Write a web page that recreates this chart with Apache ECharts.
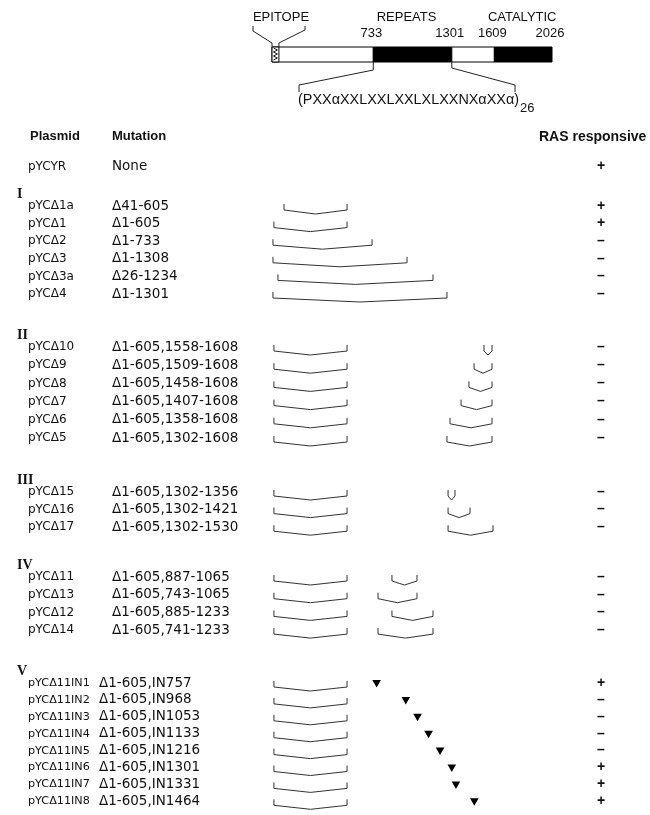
<!DOCTYPE html>
<html><head><meta charset="utf-8">
<script src="https://cdn.jsdelivr.net/npm/echarts@6/dist/echarts.min.js"></script>
<style>html,body{margin:0;padding:0;background:#fff}#c{width:650px;height:815px}</style>
</head><body><div id="c"></div>
<script>
// ---------------- data ----------------
const geneLength = 2026;
const segStart = [0, 733, 1301, 1609];
const segEnd = [733, 1301, 1609, 2026];
const segFilled = [false, true, false, true];
const boundaryLabels = [733, 1301, 1609, 2026];
const epitopeEnd = 50;
const domainNames = ['EPITOPE', 'REPEATS', 'CATALYTIC'];
const repeatMotif = '(PXX\u03b1XXLXXLXXLXLXXNX\u03b1XX\u03b1)';
const repeatCount = '26';

const headers = ['Plasmid', 'Mutation', 'RAS responsive'];
const groupNames = ['', 'I', 'II', 'III', 'IV', 'V'];

const g0Plasmids = ['pYCYR'];
const g0Mutations = ['None'];
const g0Spans = [[]];
const g0Responses = ['+'];

const g1Plasmids = ['pYC\u03941a', 'pYC\u03941', 'pYC\u03942', 'pYC\u03943', 'pYC\u03943a', 'pYC\u03944'];
const g1Mutations = ['\u039441-605', '\u03941-605', '\u03941-733', '\u03941-1308', '\u039426-1234', '\u03941-1301'];
const g1Spans = [[[87, 543]], [[14, 543]], [[7, 724]], [[7, 977]], [[43, 1165]], [[7, 1266]]];
const g1Responses = ['+', '+', '\u2013', '\u2013', '\u2013', '\u2013'];

const g2Plasmids = ['pYC\u039410', 'pYC\u03949', 'pYC\u03948', 'pYC\u03947', 'pYC\u03946', 'pYC\u03945'];
const g2Mutations = ['\u03941-605,1558-1608', '\u03941-605,1509-1608', '\u03941-605,1458-1608', '\u03941-605,1407-1608', '\u03941-605,1358-1608', '\u03941-605,1302-1608'];
const g2Spans = [[[14, 543], [1534, 1592]], [[14, 543], [1462, 1592]], [[14, 543], [1425, 1592]], [[14, 543], [1368, 1592]], [[14, 543], [1288, 1592]], [[14, 543], [1266, 1592]]];
const g2Responses = ['\u2013', '\u2013', '\u2013', '\u2013', '\u2013', '\u2013'];

const g3Plasmids = ['pYC\u039415', 'pYC\u039416', 'pYC\u039417'];
const g3Mutations = ['\u03941-605,1302-1356', '\u03941-605,1302-1421', '\u03941-605,1302-1530'];
const g3Spans = [[[14, 543], [1274, 1324]], [[14, 543], [1274, 1433]], [[14, 543], [1274, 1599]]];
const g3Responses = ['\u2013', '\u2013', '\u2013'];

const g4Plasmids = ['pYC\u039411', 'pYC\u039413', 'pYC\u039412', 'pYC\u039414'];
const g4Mutations = ['\u03941-605,887-1065', '\u03941-605,743-1065', '\u03941-605,885-1233', '\u03941-605,741-1233'];
const g4Spans = [[[14, 543], [868, 1049]], [[14, 543], [767, 1049]], [[14, 543], [868, 1165]], [[14, 543], [767, 1165]]];
const g4Responses = ['\u2013', '\u2013', '\u2013', '\u2013'];

const g5Plasmids = ['pYC\u039411IN1', 'pYC\u039411IN2', 'pYC\u039411IN3', 'pYC\u039411IN4', 'pYC\u039411IN5', 'pYC\u039411IN6', 'pYC\u039411IN7', 'pYC\u039411IN8'];
const g5Mutations = ['\u03941-605,IN757', '\u03941-605,IN968', '\u03941-605,IN1053', '\u03941-605,IN1133', '\u03941-605,IN1216', '\u03941-605,IN1301', '\u03941-605,IN1331', '\u03941-605,IN1464'];
const g5Spans = [[[14, 543]], [[14, 543]], [[14, 543]], [[14, 543]], [[14, 543]], [[14, 543]], [[14, 543]], [[14, 543]]];
const g5Inserts = [757, 968, 1053, 1133, 1216, 1301, 1331, 1464];
const g5Responses = ['+', '\u2013', '\u2013', '\u2013', '\u2013', '+', '+', '+'];

// ---------------- layout / style ----------------
const FONT = 'DejaVu Sans';
const INK = '#111';
const X_LEFT = 272, X_WIDTH = 280;
const PLASMID_X = 28, RESP_X = 601, NUMERAL_X = 17;

const groups = [
  {name: groupNames[0], plasmids: g0Plasmids, mutations: g0Mutations, spans: g0Spans, inserts: null, responses: g0Responses, c0: 166.5, sp: 17.8, mutX: 112, pFont: 12},
  {name: groupNames[1], plasmids: g1Plasmids, mutations: g1Mutations, spans: g1Spans, inserts: null, responses: g1Responses, c0: 206, sp: 17.6, mutX: 112, pFont: 12},
  {name: groupNames[2], plasmids: g2Plasmids, mutations: g2Mutations, spans: g2Spans, inserts: null, responses: g2Responses, c0: 347, sp: 18.2, mutX: 112, pFont: 12},
  {name: groupNames[3], plasmids: g3Plasmids, mutations: g3Mutations, spans: g3Spans, inserts: null, responses: g3Responses, c0: 492, sp: 17.6, mutX: 112, pFont: 12},
  {name: groupNames[4], plasmids: g4Plasmids, mutations: g4Mutations, spans: g4Spans, inserts: null, responses: g4Responses, c0: 577, sp: 17.7, mutX: 112, pFont: 12},
  {name: groupNames[5], plasmids: g5Plasmids, mutations: g5Mutations, spans: g5Spans, inserts: g5Inserts, responses: g5Responses, c0: 683, sp: 16.9, mutX: 99, pFont: 11.2}
];

function txt(text, x, y, font, align) {
  return {type: 'text', style: {text: text, x: x, y: y, font: font, fill: INK, align: align || 'left', verticalAlign: 'middle'}};
}

function makeRowRenderer(g) {
  return function (params, api) {
    const k = api.value(1);
    const y = api.coord([0, k])[1];
    const ch = [];
    if (k === 0 && g.name) ch.push(txt(g.name, NUMERAL_X, y - 12, 'bold 14px "Liberation Serif"', 'left'));
    ch.push(txt(g.plasmids[k], PLASMID_X, y, g.pFont + 'px "' + FONT + '"'));
    ch.push(txt(g.mutations[k], g.mutX, y, '13.5px "' + FONT + '"'));
    ch.push(txt(g.responses[k], RESP_X, y, 'bold 14px "Liberation Sans"', 'center'));
    g.spans[k].forEach(function (s) {
      const x1 = api.coord([s[0], k])[0], x2 = api.coord([s[1], k])[0];
      const xm = (x1 + x2) / 2;
      ch.push({type: 'polyline', shape: {points: [[x1, y - 2], [x1, y + 4], [xm, y + 8], [x2, y + 4], [x2, y - 2]]},
        style: {stroke: '#333', lineWidth: 1, fill: null}});
    });
    if (g.inserts) {
      const xi = api.coord([g.inserts[k], k])[0];
      ch.push({type: 'polygon', shape: {points: [[xi - 4.3, y - 3], [xi + 4.3, y - 3], [xi, y + 4.5]]}, style: {fill: '#000'}});
    }
    return {type: 'group', children: ch};
  };
}

function renderGene(params, api) {
  const c = api.coord([0, 0]);
  const h = api.size([0, 1])[1];
  const top = c[1] - h / 2, bot = c[1] + h / 2;
  const ch = [];
  for (let i = 0; i < segStart.length; i++) {
    const x1 = api.coord([segStart[i], 0])[0], x2 = api.coord([segEnd[i], 0])[0];
    ch.push({type: 'rect', shape: {x: x1, y: top, width: x2 - x1, height: h},
      style: {fill: segFilled[i] ? '#000' : '#fff', stroke: '#000', lineWidth: 1}});
  }
  // epitope hatch
  const xs = api.coord([0, 0])[0], xe = api.coord([epitopeEnd, 0])[0];
  ch.push({type: 'rect', shape: {x: xs, y: top, width: xe - xs, height: h}, style: {fill: '#fff', stroke: '#000', lineWidth: 1}});
  const zz = [];
  for (let yy = top + 1, t = 0; yy <= bot - 1; yy += 2, t++) zz.push([t % 2 ? xe - 1.5 : xs + 1.5, yy]);
  ch.push({type: 'polyline', shape: {points: zz}, style: {stroke: '#000', lineWidth: 0.9, fill: null}});
  // epitope callout
  ch.push({type: 'polyline', shape: {points: [[xs - 19, top - 21], [xs - 19, top - 16], [xs, top - 4], [xs, top]]}, style: {stroke: '#222', lineWidth: 1, fill: null}});
  ch.push({type: 'polyline', shape: {points: [[xe, top], [xe, top - 4], [xs + 33, top - 17], [xs + 33, top - 21]]}, style: {stroke: '#222', lineWidth: 1, fill: null}});
  // domain names
  const xRepMid = api.coord([(segStart[1] + segEnd[1]) / 2, 0])[0];
  const xCatMid = api.coord([(segStart[3] + segEnd[3]) / 2, 0])[0];
  const F = '13px "Liberation Sans"';
  ch.push(txt(domainNames[0], xs + 9, top - 30, F, 'center'));
  ch.push(txt(domainNames[1], xRepMid - 6, top - 30, F, 'center'));
  ch.push(txt(domainNames[2], xCatMid - 1, top - 30, F, 'center'));
  // boundary numbers
  boundaryLabels.forEach(function (b) {
    const xb = api.coord([b, 0])[0];
    ch.push(txt(String(b), xb - 2, top - 14, F, 'center'));
  });
  // repeats callout
  const xa = api.coord([segStart[1], 0])[0], xb2 = api.coord([segEnd[1], 0])[0];
  ch.push({type: 'polyline', shape: {points: [[xa, bot], [xa, bot + 8], [299, bot + 23], [299, bot + 30]]}, style: {stroke: '#222', lineWidth: 1, fill: null}});
  ch.push({type: 'polyline', shape: {points: [[xb2, bot], [xb2, bot + 6], [515, bot + 23], [515, bot + 30]]}, style: {stroke: '#222', lineWidth: 1, fill: null}});
  ch.push(txt(repeatMotif, 519, bot + 38, '14.4px "Liberation Sans"', 'right'));
  ch.push(txt(repeatCount, 520, bot + 46, '13px "Liberation Sans"', 'left'));
  return {type: 'group', children: ch};
}

const grids = [], xAxes = [], yAxes = [], series = [];
// gene map grid
grids.push({left: X_LEFT, width: X_WIDTH, top: 47, height: 15});
xAxes.push({type: 'value', gridIndex: 0, min: 0, max: geneLength, show: false});
yAxes.push({type: 'category', gridIndex: 0, data: ['gene'], show: false});
series.push({type: 'custom', xAxisIndex: 0, yAxisIndex: 0, data: [[0, 0]], renderItem: renderGene, silent: true, clip: false});

groups.forEach(function (g, i) {
  const gi = i + 1;
  const n = g.plasmids.length;
  grids.push({left: X_LEFT, width: X_WIDTH, top: g.c0 - g.sp / 2, height: g.sp * n});
  xAxes.push({type: 'value', gridIndex: gi, min: 0, max: geneLength, show: false});
  yAxes.push({type: 'category', gridIndex: gi, data: g.plasmids, inverse: true, show: false});
  series.push({type: 'custom', xAxisIndex: gi, yAxisIndex: gi, data: g.plasmids.map(function (p, k) { return [0, k]; }),
    renderItem: makeRowRenderer(g), silent: true, clip: false});
});

const chart = echarts.init(document.getElementById('c'));
chart.setOption({
  animation: false,
  backgroundColor: '#fff',
  grid: grids, xAxis: xAxes, yAxis: yAxes, series: series,
  graphic: [
    {type: 'text', left: 30, top: 130, style: {text: headers[0], font: 'bold 13px "Liberation Sans"', fill: INK}},
    {type: 'text', left: 112, top: 130, style: {text: headers[1], font: 'bold 13px "Liberation Sans"', fill: INK}},
    {type: 'text', left: 539, top: 130, style: {text: headers[2], font: 'bold 14px "Liberation Sans"', fill: INK}}
  ]
});
</script></body></html>
